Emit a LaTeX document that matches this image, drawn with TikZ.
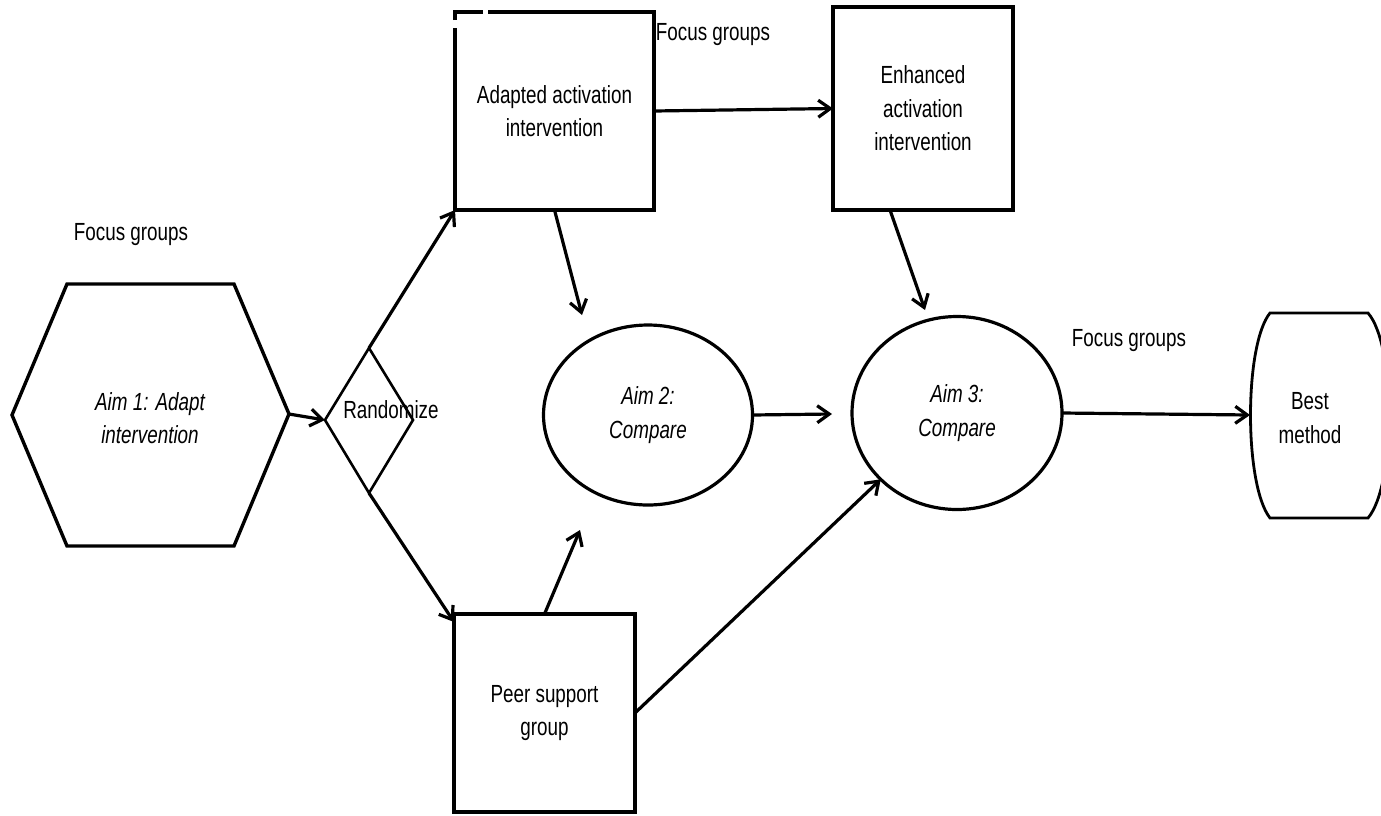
\documentclass[tikz,border=0pt]{standalone}
\usepackage{fontspec}
\setmainfont{Liberation Sans}[FakeStretch=0.76]
\usetikzlibrary{arrows.meta,shapes.geometric,calc}
\newcommand\diagfont{\fontsize{12.4}{16.8}\selectfont}

\begin{document}
\begin{tikzpicture}[x=0.5pt,y=-0.5pt,
  every node/.style={font=\diagfont, align=center, inner sep=0pt, outer sep=0pt},
  boxnode/.style={rectangle, draw, line width=2.2pt},
  emptybox/.style={rectangle},
  oval/.style={ellipse, draw, line width=1.6pt, font=\diagfont\itshape},
  flow/.style={line width=1.6pt, -{Straight Barb[length=6pt,width=8.5pt]}},
  outline/.style={line width=1.7pt, line join=miter},
]
\useasboundingbox (0,0) rectangle (1381,815);

% Aim 1 hexagon
\coordinate (h1) at (12,415);
\coordinate (h2) at (67,284);
\coordinate (h3) at (234,284);
\coordinate (h4) at (289,414);
\coordinate (h5) at (234,546);
\coordinate (h6) at (67,546);
\draw[outline] (h1) -- (h2) -- (h3) -- (h4) -- (h5) -- (h6) -- cycle;
\node[font=\diagfont\itshape] (aim1) at (150,418) {Aim 1: Adapt\\intervention};
\node (fg1) at (131,235) {Focus groups};

% Randomize diamond
\coordinate (d1) at (325,420);
\coordinate (d2) at (369,348);
\coordinate (d3) at (413,420);
\coordinate (d4) at (369,493);
\draw[line width=1.3pt] (d1) -- (d2) -- (d3) -- (d4) -- cycle;
\node (rand) at (391,410) {Randomize};

% Intervention boxes (the first one has a broken top-left corner)
\node[emptybox, minimum width=99.5pt, minimum height=99pt] (adapted) at (554.5,111) {Adapted activation\\intervention};
\draw[line width=2.2pt] ($(adapted.north west)+(33,0)$) -- (adapted.north east)
  -- (adapted.south east) -- (adapted.south west) -- ($(adapted.north west)+(0,16)$);
\draw[line width=2.2pt, line join=miter] ($(adapted.north west)+(0,8)$) -- (adapted.north west) -- ($(adapted.north west)+(28,0)$);

\node[boxnode, minimum width=90pt, minimum height=101.5pt] (enhanced) at (923,108.5) {Enhanced\\activation\\intervention};
\node[boxnode, minimum width=90.5pt, minimum height=99pt] (peer) at (544.5,713) {Peer support\\group};
\node (fg2) at (713,35) {Focus groups};

% Comparison ovals
\node[oval, minimum width=104.5pt, minimum height=90pt] (aim2) at (648,415) {Aim 2:\\Compare};
\node[oval, minimum width=105pt, minimum height=96.5pt] (aim3) at (957,413) {Aim 3:\\Compare};
\node (fg3) at (1129,341) {Focus groups};

% Best method terminal
\coordinate (bestW) at (1250,415);
\draw[line width=1.4pt] (1270,313) -- (1368,313)
  .. controls (1396,345) and (1396,485) .. (1368,518) -- (1270,518)
  .. controls (1244,485) and (1244,345) .. (1270,313) -- cycle;
\node (best) at (1310,418) {Best\\method};

% Free arrow ends
\coordinate (a2top) at (582,315);
\coordinate (a2bot) at (580,530);
\coordinate (a3left) at (832,414);
\coordinate (a3top) at (925,310);

% Connectors
\draw[flow] (h4) -- (d1);
\draw[flow] (d2) -- (adapted.south west);
\draw[flow] (d4) -- ($(peer.north west)+(0,8)$);
\draw[flow] (adapted.east) -- (enhanced.west);
\draw[flow] (adapted.south) -- (a2top);
\draw[flow] (peer.north) -- (a2bot);
\draw[flow] (aim2.east) -- (a3left);
\draw[flow] ($(enhanced.south)+(-33,0)$) -- (a3top);
\draw[flow] (peer.east) -- (aim3.-139);
\draw[flow] (aim3.east) -- (bestW);
\end{tikzpicture}
\end{document}
